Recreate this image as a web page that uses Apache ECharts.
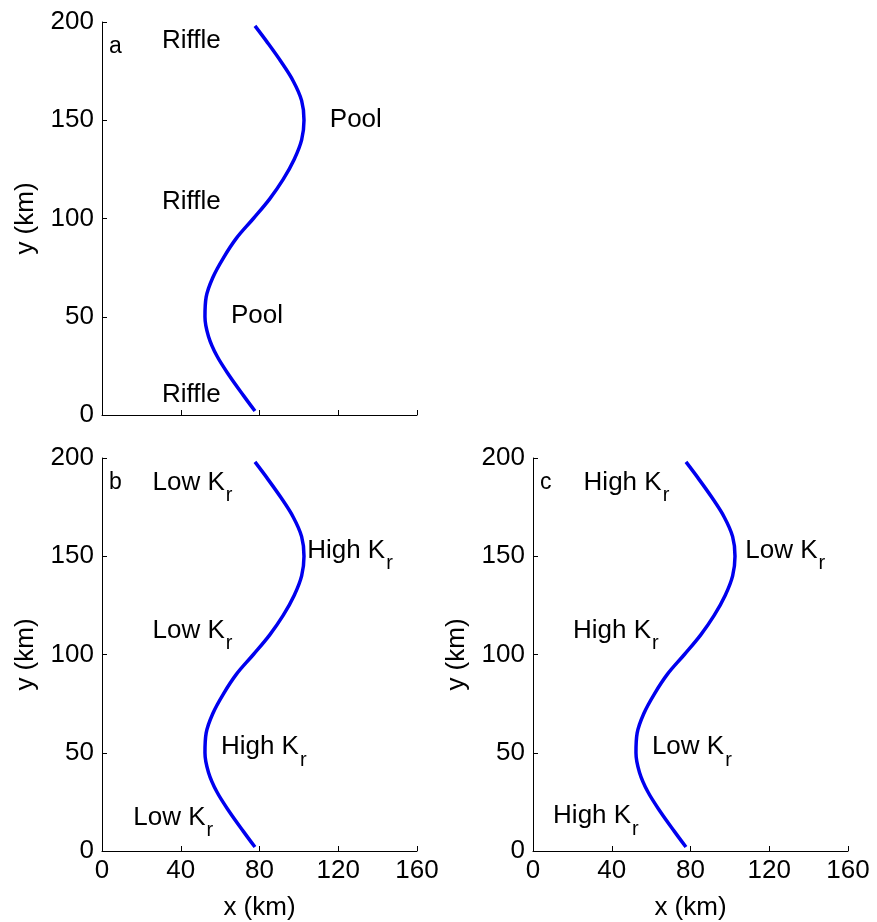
<!DOCTYPE html>
<html>
<head>
<meta charset="utf-8">
<script src="https://cdn.jsdelivr.net/npm/echarts@6/dist/echarts.min.js"></script>
<style>
  html, body { margin: 0; padding: 0; background: #fff; }
  #chart { width: 877px; height: 922px; }
</style>
</head>
<body>
<div id="chart"></div>
<script>
// Channel centreline: down-valley distance y (km) and cross-valley position x (km)
const yKm = [2, 10, 20, 30, 40, 50, 60, 70, 80, 90, 100, 110, 120, 130, 140, 150, 160, 170, 180, 190, 198];
const xKm = [77.7, 71.8, 64.7, 58.4, 54.1, 52.3, 52.9, 56.3, 61.7, 68.3, 76.9, 85.2, 92.1, 97.6, 101.4, 102.6, 101.4, 97.1, 90.8, 83.7, 77.7];

// Axis ticks
const xTicks = [0, 40, 80, 120, 160];
const yTicks = [0, 50, 100, 150, 200];

// Panel annotations: text, optional subscript, anchor (left edge, vertical centre) in km
const panelNames = ['a', 'b', 'c'];
const notesA = [
  { t: 'Riffle', x: 30.5, y: 190.4 },
  { t: 'Pool', x: 115.7, y: 150.1 },
  { t: 'Riffle', x: 30.5, y: 108.4 },
  { t: 'Pool', x: 65.5, y: 50.4 },
  { t: 'Riffle', x: 30.5, y: 10.2 }
];
const notesB = [
  { t: 'Low K', s: 'r', x: 25.7, y: 187.3 },
  { t: 'High K', s: 'r', x: 104.2, y: 152.7 },
  { t: 'Low K', s: 'r', x: 25.7, y: 112.0 },
  { t: 'High K', s: 'r', x: 60.4, y: 52.9 },
  { t: 'Low K', s: 'r', x: 15.9, y: 17.0 }
];
const notesC = [
  { t: 'High K', s: 'r', x: 25.7, y: 187.3 },
  { t: 'Low K', s: 'r', x: 107.8, y: 152.7 },
  { t: 'High K', s: 'r', x: 20.3, y: 112.0 },
  { t: 'Low K', s: 'r', x: 60.4, y: 52.9 },
  { t: 'High K', s: 'r', x: 10.2, y: 17.8 }
];
const panelNotes = [notesA, notesB, notesC];

const FONT = "'Liberation Sans', Arial, Helvetica, sans-serif";
const FS = 26;

const grids = [
  { left: 102, top: 22, width: 315, height: 393 },
  { left: 102, top: 458, width: 315, height: 393 },
  { left: 533, top: 458, width: 315, height: 393 }
];

const channel = yKm.map((y, i) => [xKm[i], y]);

const xAxes = grids.map((g, i) => ({
  type: 'value', gridIndex: i, min: xTicks[0], max: xTicks[xTicks.length - 1], interval: 40,
  name: i === 0 ? '' : 'x (km)', nameLocation: 'middle', nameGap: 44,
  nameTextStyle: { fontFamily: FONT, fontSize: FS, color: '#000' },
  axisLine: { show: true, onZero: false, lineStyle: { color: '#000', width: 1 } },
  axisTick: { show: true, inside: true, length: 5, lineStyle: { color: '#000' } },
  axisLabel: { show: i !== 0, margin: 7, fontFamily: FONT, fontSize: FS, color: '#000' },
  splitLine: { show: false }
}));

const yAxes = grids.map((g, i) => ({
  type: 'value', gridIndex: i, min: yTicks[0], max: yTicks[yTicks.length - 1], interval: 50,
  name: 'y (km)', nameLocation: 'middle', nameGap: 63,
  nameTextStyle: { fontFamily: FONT, fontSize: FS, color: '#000' },
  axisLine: { show: true, onZero: false, lineStyle: { color: '#000', width: 1 } },
  axisTick: { show: true, inside: true, length: 5, lineStyle: { color: '#000' } },
  axisLabel: { margin: 8, fontFamily: FONT, fontSize: FS, color: '#000' },
  splitLine: { show: false }
}));

const series = [];
grids.forEach((g, i) => {
  series.push({
    type: 'line', xAxisIndex: i, yAxisIndex: i,
    data: channel, smooth: 0.35, showSymbol: false, symbol: 'none',
    lineStyle: { color: '#0000ee', width: 3.5 },
    silent: true, z: 3
  });
  const pts = panelNotes[i].map(n => ({ value: [n.x, n.y], t: n.t, s: n.s }));
  pts.push({ value: [3.5, 187.5], t: panelNames[i], small: true });
  series.push({
    type: 'scatter', xAxisIndex: i, yAxisIndex: i,
    data: pts, symbolSize: 0, silent: true, z: 4,
    itemStyle: { opacity: 1 },
    label: {
      show: true, position: 'right', distance: 0, opacity: 1,
      fontFamily: FONT, fontSize: FS, color: '#000',
      formatter: p => {
        const d = p.data;
        if (d.small) return '{l|' + d.t + '}';
        return d.s ? '{m|' + d.t + '}{s|' + d.s + '}' : '{m|' + d.t + '}';
      },
      rich: {
        m: { fontFamily: FONT, fontSize: FS, color: '#000' },
        s: { fontFamily: FONT, fontSize: 20, color: '#000', padding: [26, 0, 0, 1] },
        l: { fontFamily: FONT, fontSize: 23, color: '#000' }
      }
    }
  });
});

const chart = echarts.init(document.getElementById('chart'), null, { renderer: 'canvas' });
chart.setOption({
  backgroundColor: '#ffffff',
  animation: false,
  grid: grids,
  xAxis: xAxes,
  yAxis: yAxes,
  series: series
});
</script>
</body>
</html>
